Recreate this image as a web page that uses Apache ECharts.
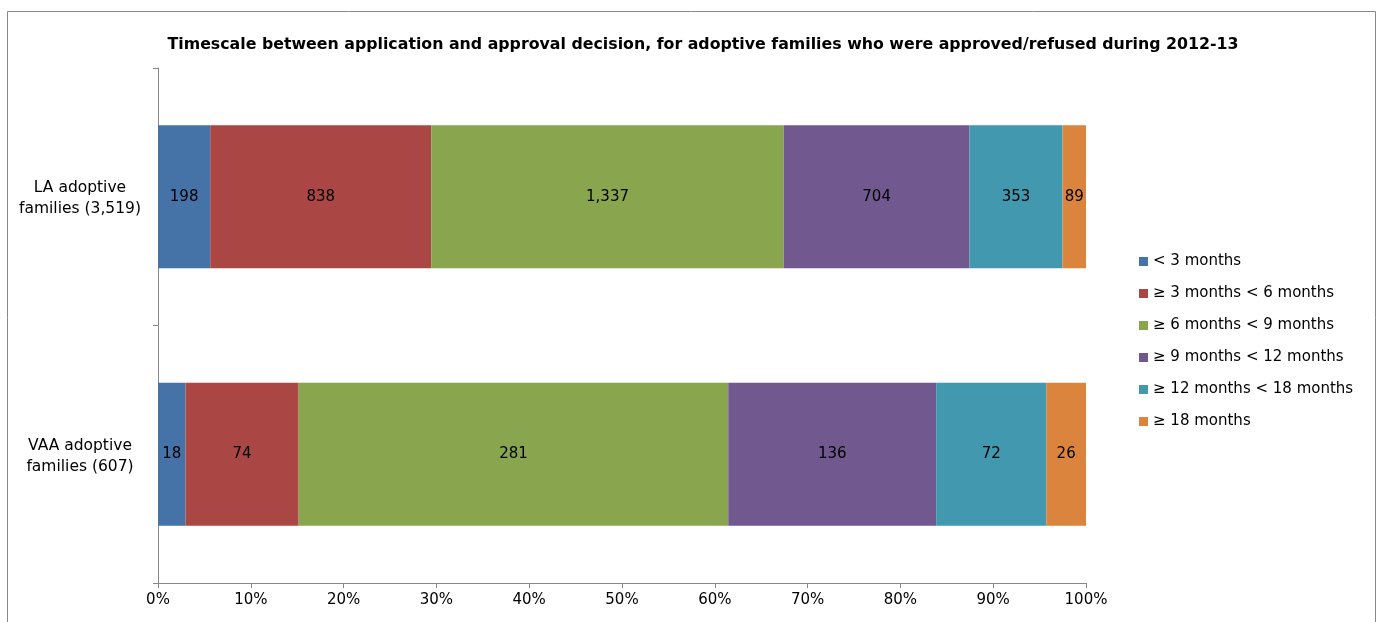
<!DOCTYPE html>
<html>
<head>
<meta charset="utf-8">
<script src="https://cdn.jsdelivr.net/npm/echarts@6/dist/echarts.min.js"></script>
<style>
  body { margin: 0; background: #fff; }
  #chart { width: 1378px; height: 622px; }
</style>
</head>
<body>
<div id="chart"></div>
<script>
  // categories (top to bottom)
  var groups = ['LA adoptive\nfamilies (3,519)', 'VAA adoptive\nfamilies (607)']
  var bands = ['< 3 months', '≥ 3 months < 6 months', '≥ 6 months < 9 months',
    '≥ 9 months < 12 months', '≥ 12 months < 18 months', '≥ 18 months']
  // counts per band, one per group
  var laCounts = [198, 838, 1337, 704, 353, 89]
  var vaaCounts = [18, 74, 281, 136, 72, 26]
  var colors = ['#4572A7', '#AA4643', '#89A54E', '#71588F', '#4198AF', '#DB843D']
  var xTicks = [0, 10, 20, 30, 40, 50, 60, 70, 80, 90, 100]

  var font = 'DejaVu Sans'
  function sum (a) { return a.reduce(function (s, v) { return s + v }, 0) }
  var laTotal = sum(laCounts)
  var vaaTotal = sum(vaaCounts)

  var series = bands.map(function (name, i) {
    return {
      name: name,
      type: 'bar',
      stack: 'all',
      barWidth: '55.5%',
      itemStyle: { color: colors[i] },
      label: {
        show: true,
        position: 'inside',
        color: '#000',
        fontFamily: font,
        fontSize: 15,
        formatter: function (p) { return p.data.count.toLocaleString('en-GB') }
      },
      data: [
        { value: laCounts[i] / laTotal * 100, count: laCounts[i] },
        { value: vaaCounts[i] / vaaTotal * 100, count: vaaCounts[i] }
      ]
    }
  })

  var chart = echarts.init(document.getElementById('chart'))
  chart.setOption({
    animation: false,
    textStyle: { fontFamily: font },
    title: {
      text: 'Timescale between application and approval decision, for adoptive families who were approved/refused during 2012-13',
      left: 698,
      textAlign: 'center',
      top: 32,
      textStyle: { fontFamily: font, fontWeight: 'bold', fontSize: 15.8, color: '#000' }
    },
    graphic: [{
      type: 'rect',
      shape: { x: 7.5, y: 11.5, width: 1368, height: 640 },
      style: { fill: 'none', stroke: '#888', lineWidth: 1 },
      silent: true
    }],
    legend: {
      orient: 'vertical',
      left: 1134,
      top: 248,
      icon: 'rect',
      itemWidth: 9,
      itemHeight: 9,
      itemGap: 15,
      textStyle: { fontFamily: font, fontSize: 15, color: '#000', lineHeight: 17 },
      data: bands
    },
    grid: { left: 158, right: 292, top: 68, bottom: 39 },
    xAxis: {
      type: 'value',
      min: xTicks[0],
      max: xTicks[xTicks.length - 1],
      interval: 10,
      axisLine: { show: true, lineStyle: { color: '#888' } },
      axisTick: { show: true, length: 5, lineStyle: { color: '#888' } },
      splitLine: { show: false },
      axisLabel: { color: '#000', fontSize: 15, margin: 10, formatter: '{value}%' }
    },
    yAxis: {
      type: 'category',
      inverse: true,
      data: groups,
      axisLine: { show: true, lineStyle: { color: '#888' } },
      axisTick: { show: true, length: 5, lineStyle: { color: '#888' } },
      axisLabel: {
        color: '#000',
        margin: 16,
        padding: [4, 0, 0, 0],
        formatter: function (v) { return '{c|' + v.split('\n').join('}\n{c|') + '}' },
        rich: { c: { width: 124, align: 'center', fontSize: 15.5, lineHeight: 21, color: '#000', fontFamily: font } }
      }
    },
    series: series
  })
</script>
</body>
</html>
